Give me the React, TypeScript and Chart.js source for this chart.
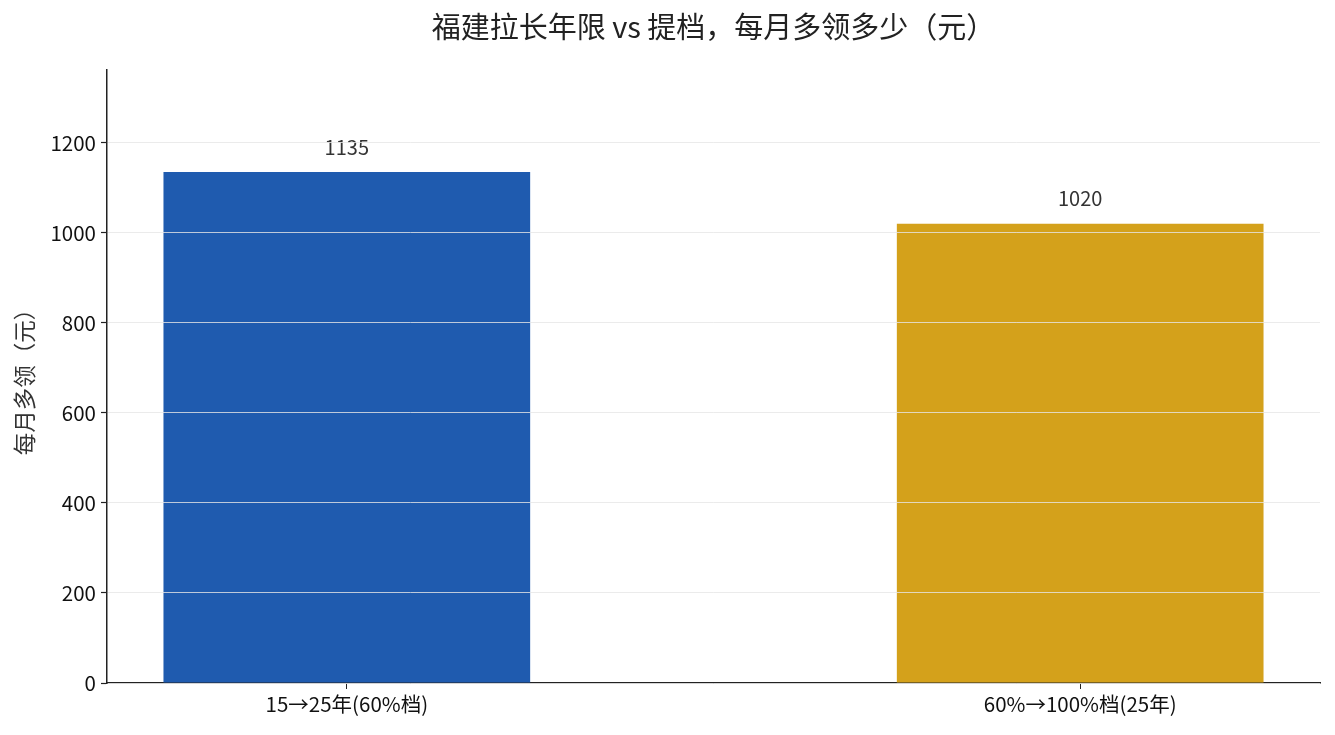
import { Chart, registerables } from 'chart.js';
import { useEffect, useRef } from 'react';

Chart.register(...registerables);

const categories = ['15→25年(60%档)', '60%→100%档(25年)'];
const values = [1135, 1020];
const barColors = ['#1f5baf', '#d4a11b'];
const yTicks = [0, 200, 400, 600, 800, 1000, 1200];

const FONT = '"Noto Sans CJK SC", "Noto Sans", sans-serif';

// draws the numbers above each bar
const valueLabels = {
    id: 'valueLabels',
    afterDatasetsDraw(chart: any) {
        const ctx = chart.ctx;
        const meta = chart.getDatasetMeta(0);
        ctx.save();
        ctx.font = `20px ${FONT}`;
        ctx.fillStyle = '#333';
        ctx.textAlign = 'center';
        ctx.textBaseline = 'middle';
        meta.data.forEach((bar: any, i: number) => {
            ctx.fillText(String(values[i]), bar.x, bar.y - 25);
        });
        ctx.restore();
    },
};

export default function App() {
    const chartRef = useRef<HTMLCanvasElement>(null);
    const chartInstance = useRef<Chart | null>(null);

    useEffect(() => {
        if (!chartRef.current) return;
        if (chartInstance.current) chartInstance.current.destroy();
        const ctx = chartRef.current.getContext('2d');
        if (!ctx) return;

        const config: any = {
            type: 'bar',
            data: {
                datasets: [
                    {
                        data: values.map((v, i) => ({ x: i, y: v })),
                        backgroundColor: barColors,
                        borderWidth: 0,
                        barPercentage: 0.5,
                        categoryPercentage: 1,
                    },
                ],
            },
            options: {
                animation: false,
                responsive: true,
                maintainAspectRatio: false,
                layout: { padding: { left: 0, right: 15, top: 0, bottom: 0 } },
                plugins: {
                    legend: { display: false },
                    tooltip: { enabled: false },
                    title: {
                        display: true,
                        text: '福建拉长年限 vs 提档，每月多领多少（元）',
                        fullSize: false,
                        color: '#222',
                        font: { family: FONT, size: 29, weight: 'normal' },
                        padding: { top: 10, bottom: 25 },
                    },
                },
                scales: {
                    x: {
                        type: 'linear',
                        min: -0.327,
                        max: 1.327,
                        offset: false,
                        afterBuildTicks: (scale: any) => {
                            scale.ticks = categories.map((_, i) => ({ value: i }));
                        },
                        afterFit: (scale: any) => {
                            scale.height = 52;
                        },
                        ticks: {
                            callback: (v: any) => categories[v] ?? '',
                            color: '#111',
                            font: { family: FONT, size: 20.5 },
                            padding: 3,
                            maxRotation: 0,
                        },
                        grid: {
                            display: true,
                            offset: false,
                            drawOnChartArea: false,
                            drawTicks: true,
                            tickLength: 6,
                            color: '#222',
                        },
                        border: { display: true, color: '#222', width: 1.5 },
                    },
                    y: {
                        min: 0,
                        max: 1362,
                        afterBuildTicks: (scale: any) => {
                            scale.ticks = yTicks.map((v) => ({ value: v }));
                        },
                        afterFit: (scale: any) => {
                            scale.width = 107;
                        },
                        ticks: {
                            callback: (v: any) => String(v),
                            color: '#111',
                            font: { family: FONT, size: 20.5 },
                            padding: 5,
                        },
                        grid: {
                            z: 1,
                            color: 'rgba(230,230,230,0.8)',
                            lineWidth: 1,
                            tickColor: '#222',
                            tickLength: 6,
                            tickWidth: 1.2,
                        },
                        border: { display: true, color: '#222', width: 1.5, z: 2 },
                        title: {
                            display: true,
                            text: '每月多领（元）',
                            color: '#333',
                            font: { family: FONT, size: 22.5 },
                            padding: { top: 11, bottom: 0 },
                        },
                    },
                },
            },
            plugins: [valueLabels],
        };

        chartInstance.current = new Chart(ctx, config);

        return () => {
            if (chartInstance.current) chartInstance.current.destroy();
        };
    }, []);

    return (
        <div style={{ position: 'fixed', left: 0, top: 0, width: 1335, height: 735, background: '#fff' }}>
            <canvas ref={chartRef} />
        </div>
    );
}
